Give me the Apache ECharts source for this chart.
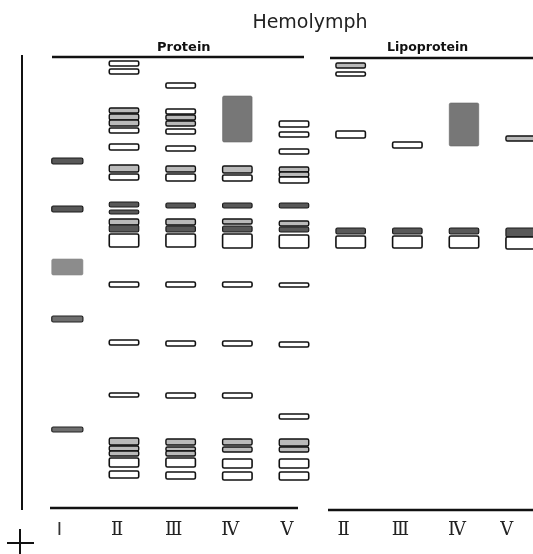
<!DOCTYPE html>
<html>
<head>
<meta charset="utf-8">
<script src="https://cdn.jsdelivr.net/npm/echarts@6/dist/echarts.min.js"></script>
<style>html,body{margin:0;padding:0;background:#fff}#c{width:533px;height:554px}</style>
</head>
<body>
<div id="c"></div>
<script>
// Lane labels (Protein: I–V, Lipoprotein: II–V)
const lanes = ['I', 'Ⅱ', 'Ⅲ', 'Ⅳ', 'Ⅴ', 'Ⅱ', 'Ⅲ', 'Ⅳ', 'Ⅴ'];
// band kinds: 0 open, 1 light hatched, 2 dark hatched, 3 dark smear, 4 medium, 5 light smear
// each band: [top, bottom, kind] as migration distance from the origin line
const protI   = [[101,107,2],[149,155,2],[202,218,5],[259,265,4],[370,375,4]];
const protII  = [[4,9,0],[12,17,0],[51,56,1],[57,63,1],[63,69,1],[71,76,0],[87,93,0],[108,115,1],[117,123,0],
                 [145,150,2],[153,157,2],[162,168,1],[168,175,2],[177,190,0],[225,230,0],[283,288,0],[336,340,0],
                 [381,388,1],[389,394,1],[394,399,1],[401,410,0],[414,421,0]];
const protIII = [[26,31,0],[52,57,0],[58,63,1],[64,69,1],[72,77,0],[89,94,0],[109,115,1],[117,124,0],
                 [146,151,2],[162,168,1],[169,175,2],[177,190,0],[225,230,0],[284,289,0],[336,341,0],
                 [382,388,1],[390,394,1],[394,399,1],[401,410,0],[415,422,0]];
const protIV  = [[39,85,3],[109,116,1],[118,124,0],[146,151,2],[162,167,1],[169,175,2],[177,191,0],
                 [225,230,0],[284,289,0],[336,341,0],[382,388,1],[390,395,1],[402,411,0],[415,423,0]];
const protV   = [[64,70,0],[75,80,0],[92,97,0],[110,115,1],[115,120,1],[120,126,0],[146,151,2],[164,169,1],
                 [170,175,2],[178,191,0],[226,230,0],[285,290,0],[357,362,0],[382,389,1],[390,395,1],
                 [402,411,0],[415,423,0]];
const lipoII  = [[6,11,1],[15,19,0],[74,81,0],[171,177,2],[179,191,0]];
const lipoIII = [[85,91,0],[171,177,2],[179,191,0]];
const lipoIV  = [[46,89,3],[171,177,2],[179,191,0]];
const lipoV   = [[79,84,1],[171,180,2],[180,192,0]];

const laneBands = [protI, protII, protIII, protIV, protV, lipoII, lipoIII, lipoIV, lipoV];
const data = [];
laneBands.forEach((bands, i) => bands.forEach(b => data.push([i, b[0], b[1], b[2]])));

const kindStyle = [
  {fill: '#ffffff', stroke: '#111', lineWidth: 1.6},
  {fill: '#bababa', stroke: '#111', lineWidth: 1.4},
  {fill: '#585858', stroke: '#1a1a1a', lineWidth: 1.2},
  {fill: '#777777', stroke: '#666', lineWidth: 0.6},
  {fill: '#6e6e6e', stroke: '#222', lineWidth: 1.2},
  {fill: '#8c8c8c', stroke: '#888', lineWidth: 0.6}
];

const chart = echarts.init(document.getElementById('c'));
chart.setOption({
  animation: false,
  backgroundColor: '#fff',
  title: {
    text: 'Hemolymph', left: 305, top: 9, textAlign: 'center',
    textStyle: {fontFamily: 'DejaVu Sans', fontSize: 19, fontWeight: 'normal', color: '#222'}
  },
  grid: {left: 39, right: -16, top: 57, bottom: 46, outerBoundsMode: 'none', containLabel: false},
  xAxis: {
    type: 'category', data: lanes,
    axisLine: {show: false}, axisTick: {show: false}, splitLine: {show: false},
    axisLabel: {
      interval: 0, margin: 13, fontFamily: 'DejaVu Serif', fontSize: 18, color: '#222',
      padding: [0, 14, 0, 0],
      formatter: (v, i) => i === 8 ? '{e|' + v + '}' : (i === 0 ? '{s|' + v + '}' : v),
      rich: {
        e: {padding: [0, 14, 0, 0], fontFamily: 'DejaVu Serif', fontSize: 18, color: '#222'},
        s: {padding: [0, 2, 0, 0], fontFamily: 'DejaVu Sans', fontSize: 18, fontWeight: 'normal', color: '#333'}
      }
    }
  },
  yAxis: {type: 'value', min: 0, max: 451, inverse: true, show: false},
  graphic: [
    {type: 'text', left: 157, top: 41, style: {text: 'Protein', font: 'bold 13px "DejaVu Sans"', fill: '#111'}},
    {type: 'text', left: 387, top: 41, style: {text: 'Lipoprotein', font: 'bold 12.5px "DejaVu Sans"', fill: '#111'}},
    {type: 'line', shape: {x1: 52, y1: 57, x2: 304, y2: 57}, style: {stroke: '#111', lineWidth: 2.5}},
    {type: 'line', shape: {x1: 330, y1: 58, x2: 533, y2: 58}, style: {stroke: '#111', lineWidth: 2.5}},
    {type: 'line', shape: {x1: 50, y1: 508, x2: 298, y2: 508}, style: {stroke: '#111', lineWidth: 2.5}},
    {type: 'line', shape: {x1: 328, y1: 510, x2: 533, y2: 510}, style: {stroke: '#111', lineWidth: 2.5}},
    {type: 'line', shape: {x1: 22, y1: 55, x2: 22, y2: 510}, style: {stroke: '#111', lineWidth: 2}},
    {type: 'line', shape: {x1: 20, y1: 529, x2: 20, y2: 554}, style: {stroke: '#111', lineWidth: 2}},
    {type: 'line', shape: {x1: 7, y1: 543, x2: 34, y2: 543}, style: {stroke: '#111', lineWidth: 2}}
  ],
  series: [{
    type: 'custom',
    data: data,
    encode: {x: 0, y: [1, 2]},
    renderItem: function (params, api) {
      const lane = api.value(0);
      const p1 = api.coord([lane, api.value(1)]);
      const p2 = api.coord([lane, api.value(2)]);
      const w = api.size([1, 0])[0] * (lane === 0 ? 0.55 : 0.52);
      const s = kindStyle[api.value(3)];
      return {
        type: 'rect',
        shape: {x: p1[0] - w / 2, y: p1[1], width: w, height: p2[1] - p1[1], r: 1.5},
        style: {fill: s.fill, stroke: s.stroke, lineWidth: s.lineWidth}
      };
    }
  }]
});
</script>
</body>
</html>
